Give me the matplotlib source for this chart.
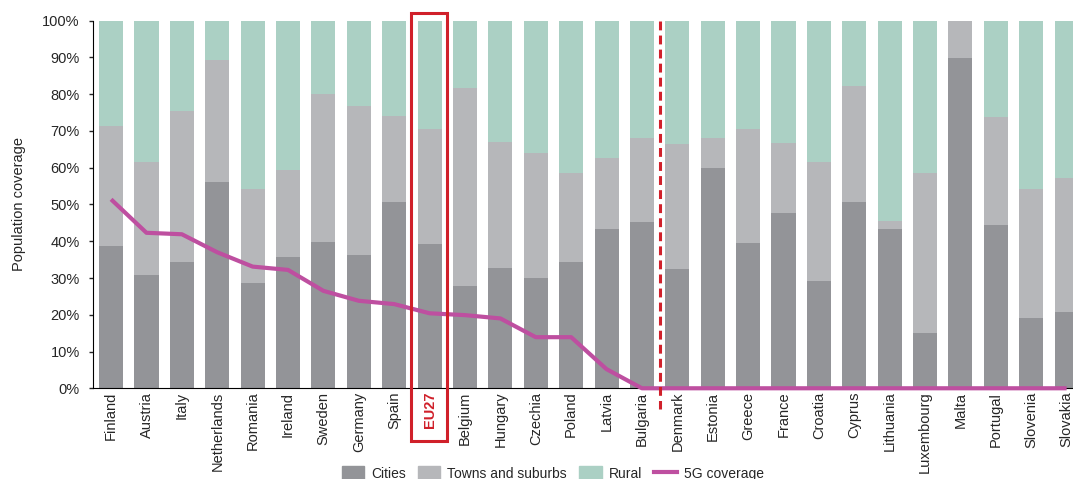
import matplotlib
matplotlib.use("Agg")
import matplotlib.pyplot as plt
from matplotlib.patches import Patch, Rectangle
from matplotlib.lines import Line2D
import numpy as np

plt.rcParams['font.family'] = ['Liberation Sans', 'DejaVu Sans']

countries = ["Finland", "Austria", "Italy", "Netherlands", "Romania", "Ireland",
             "Sweden", "Germany", "Spain", "EU27", "Belgium", "Hungary", "Czechia",
             "Poland", "Latvia", "Bulgaria", "Denmark", "Estonia", "Greece", "France",
             "Croatia", "Cyprus", "Lithuania", "Luxembourg", "Malta", "Portugal",
             "Slovenia", "Slovakia"]

# population shares (%)
cities = [38.7, 30.8, 34.3, 56.2, 28.6, 35.7, 39.7, 36.2, 50.7, 39.2, 27.8, 32.7, 30.0,
          34.3, 43.2, 45.2, 32.4, 59.8, 39.6, 47.6, 29.2, 50.7, 43.4, 15.0, 89.8, 44.4,
          19.1, 20.8]
towns = [32.6, 30.7, 41.1, 33.1, 25.6, 23.6, 40.3, 40.6, 23.4, 31.4, 53.8, 34.2, 33.9,
         24.4, 19.4, 22.9, 34.1, 8.4, 30.9, 19.2, 32.3, 31.5, 2.2, 43.6, 10.2, 29.5,
         35.2, 36.4]
rural = [28.7, 38.5, 24.6, 10.7, 45.8, 40.7, 20.0, 23.2, 25.9, 29.4, 18.4, 33.1, 36.1,
         41.3, 37.4, 31.9, 33.5, 31.8, 29.5, 33.2, 38.5, 17.8, 54.4, 41.4, 0.0, 26.1,
         45.7, 42.8]
coverage_5g = [51.4, 42.3, 41.9, 37.0, 33.1, 32.2, 26.5, 23.8, 22.9, 20.4, 19.9, 19.0,
               13.9, 13.9, 5.2, 0, 0, 0, 0, 0, 0, 0, 0, 0, 0, 0, 0, 0]

c_cities = "#939498"
c_towns = "#b6b7ba"
c_rural = "#abd0c4"
c_5g = "#be4fa0"
c_red = "#d0202a"

fig = plt.figure(figsize=(10.73, 4.79), dpi=100)
ax = fig.add_axes([0.0867, 0.1894, 0.9133, 0.7674])

x = np.arange(len(countries))
w = 0.68
cities = np.array(cities)
towns = np.array(towns)
rural = np.array(rural)
ax.bar(x, cities, w, color=c_cities, label="Cities", zorder=2)
ax.bar(x, towns, w, bottom=cities, color=c_towns, label="Towns and suburbs", zorder=2)
ax.bar(x, rural, w, bottom=cities + towns, color=c_rural, label="Rural", zorder=2)
ax.plot(x, coverage_5g, color=c_5g, lw=3, label="5G coverage", zorder=4,
        solid_capstyle='butt', clip_on=False)

# split line between Bulgaria and Denmark
ax.plot([15.5, 15.5], [1.0, -0.057], transform=ax.get_xaxis_transform(),
        color=c_red, lw=2.2, dashes=(2.9, 1.7), clip_on=False, zorder=5)

# box around EU27
ax.add_patch(Rectangle((8.47, -0.143), 1.01, 1.163, transform=ax.get_xaxis_transform(),
                       fill=False, edgecolor=c_red, lw=2.2, clip_on=False, zorder=5))

ax.set_xlim(-0.51, 27.18)
ax.set_ylim(0, 100)
ax.set_yticks(np.arange(0, 101, 10))
ax.set_yticklabels([f"{v}%" for v in range(0, 101, 10)])
ax.set_xticks(x)
ax.set_xticklabels(countries, rotation=90)
ax.tick_params(axis='x', length=0, pad=2.5, labelsize=10.5, colors='#262626')
ax.tick_params(axis='y', length=3, width=1, pad=6.5, labelsize=10.5, colors='#262626')
for lbl in ax.get_xticklabels():
    if lbl.get_text() == "EU27":
        lbl.set_color(c_red)
        lbl.set_fontweight('bold')
ax.set_ylabel("Population coverage", fontsize=10.5, color='#262626', labelpad=12)

for s in ["top", "right"]:
    ax.spines[s].set_visible(False)
ax.spines["left"].set_color("black")
ax.spines["bottom"].set_color("black")

handles = [Patch(color=c_cities), Patch(color=c_towns), Patch(color=c_rural),
           Line2D([0], [0], color=c_5g, lw=3)]
labels = ["Cities", "Towns and suburbs", "Rural", "5G coverage"]
fig.legend(handles, labels, loc='center', bbox_to_anchor=(0.515, 0.012), ncol=4,
           frameon=False, fontsize=10, handlelength=1.6, handleheight=1.2,
           handletextpad=0.5, columnspacing=0.9, labelcolor='#262626')

fig.savefig("out.png", dpi=100)
